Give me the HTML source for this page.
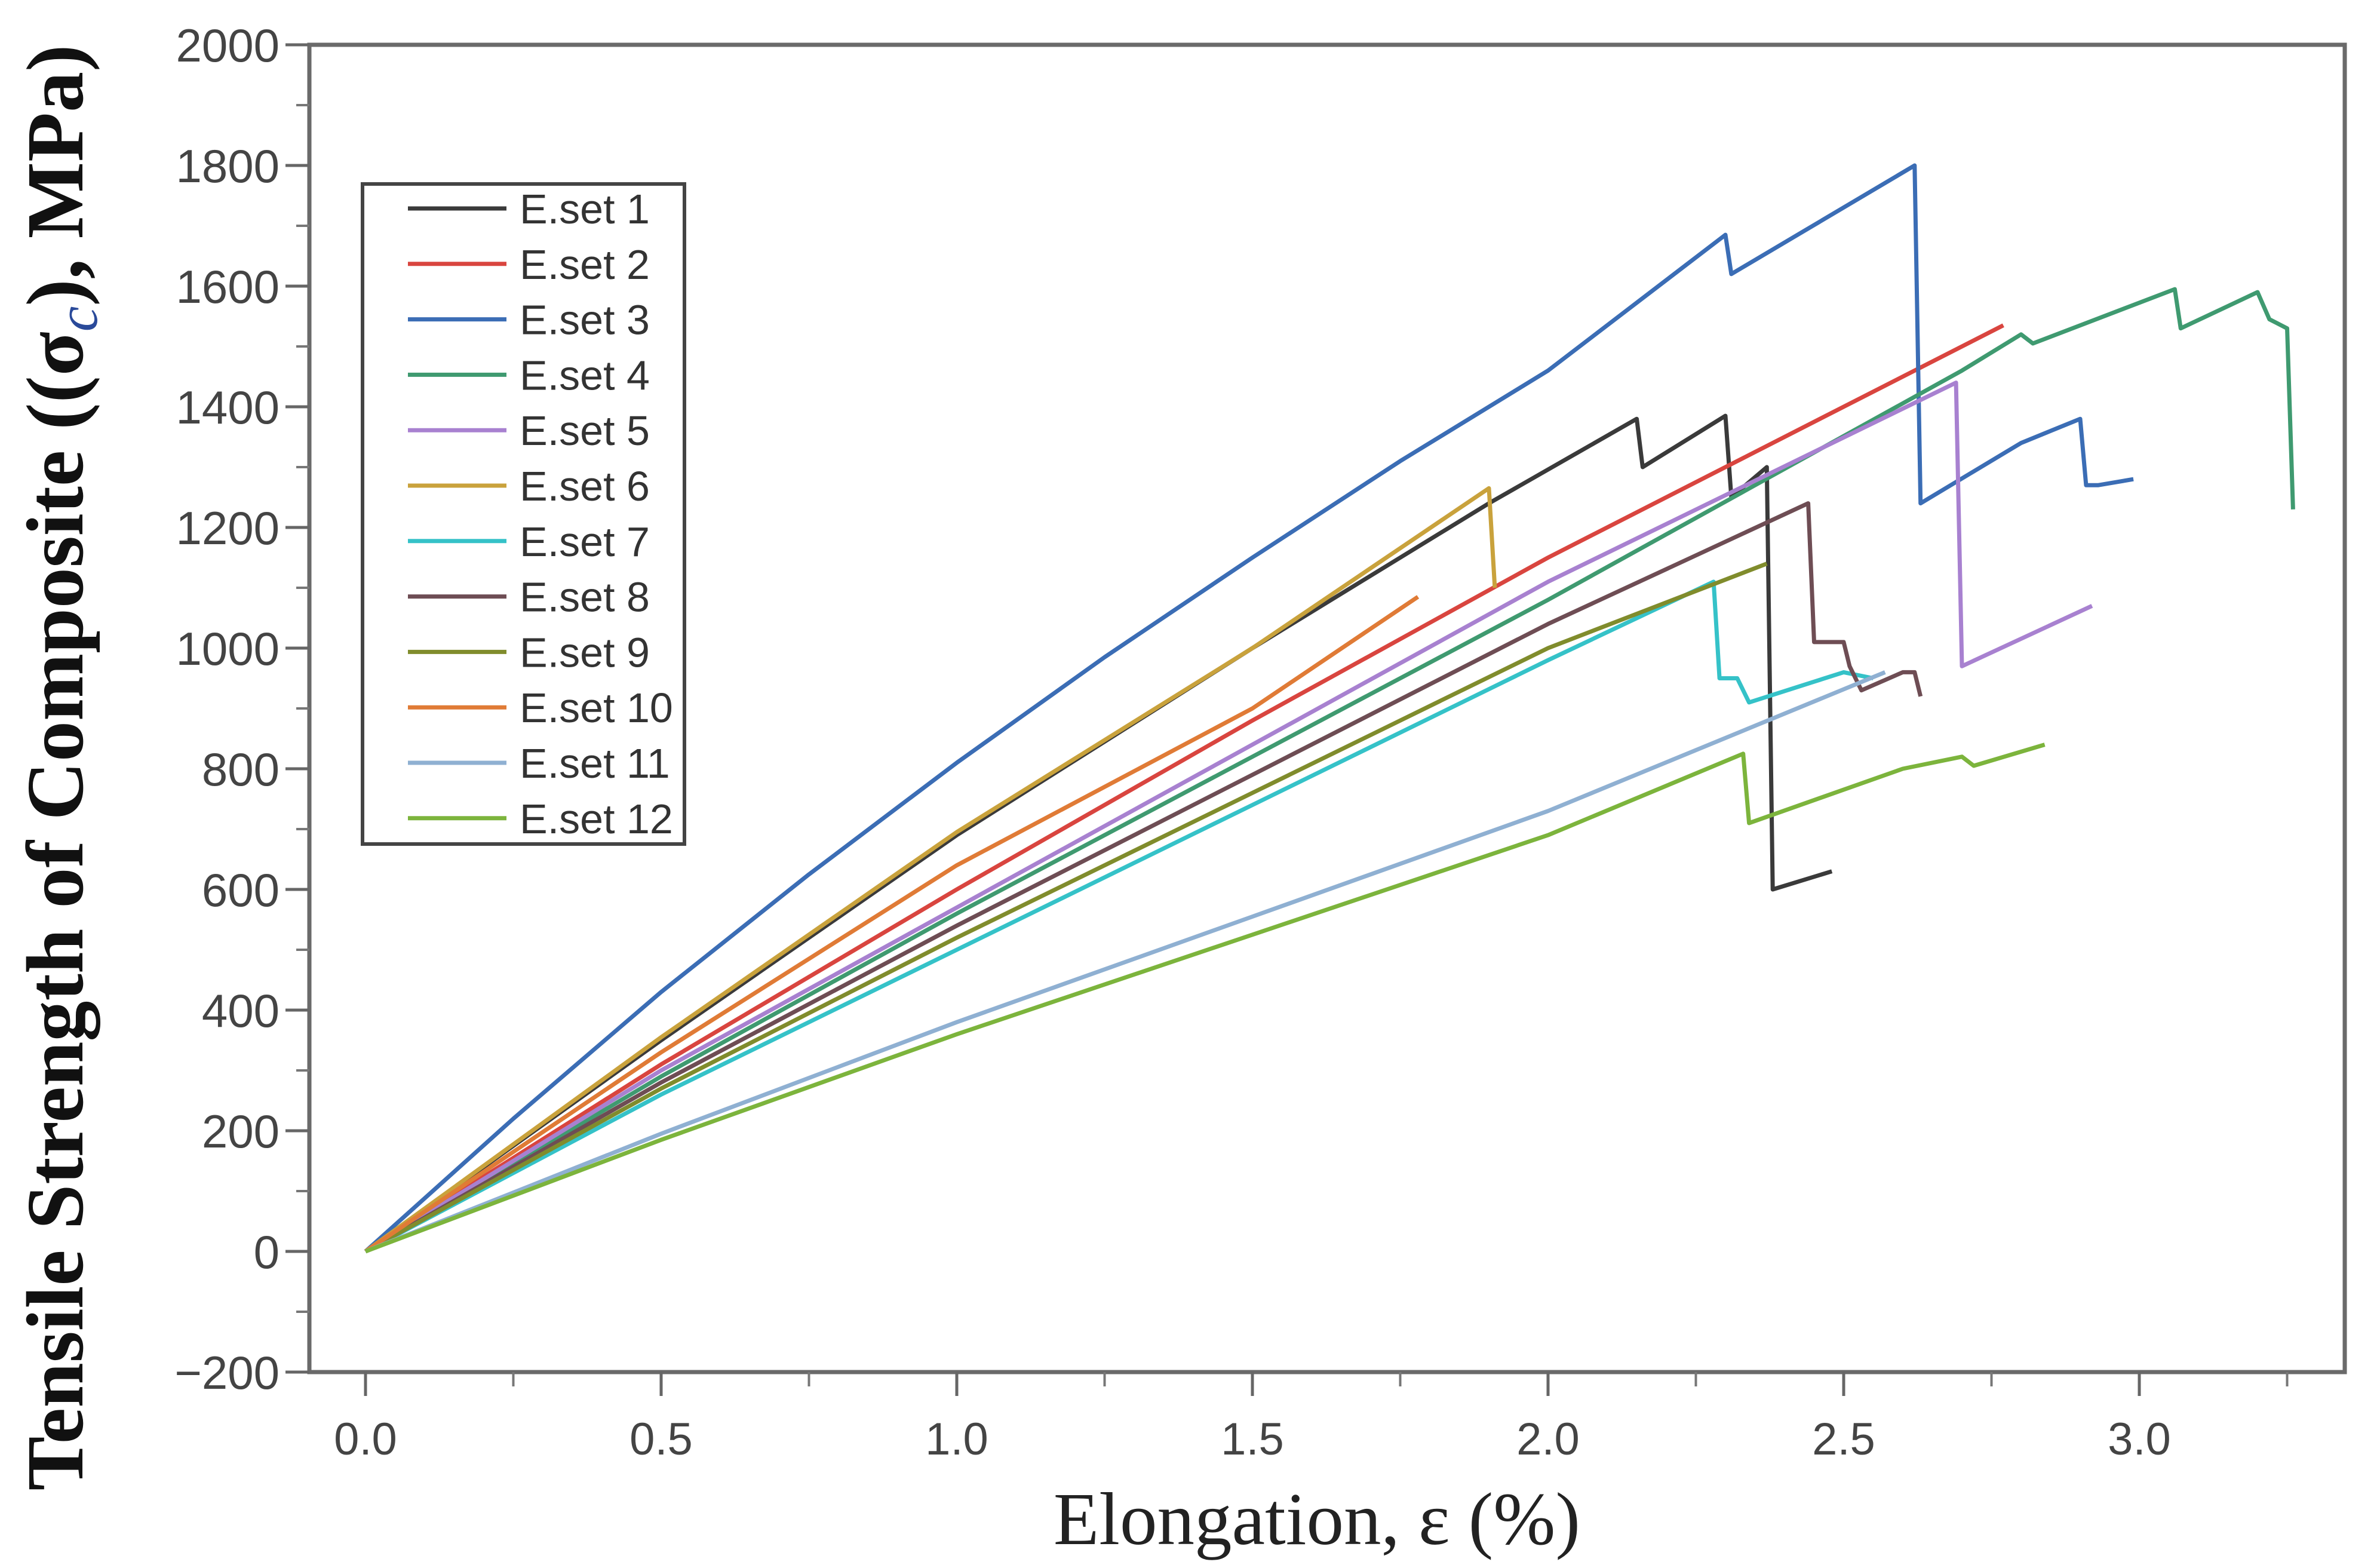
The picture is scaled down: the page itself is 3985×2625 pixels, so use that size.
<!DOCTYPE html>
<html><head><meta charset="utf-8"><style>
html,body{margin:0;padding:0;background:#fff;}
svg{display:block;}
</style></head><body>
<svg id="chart" width="3985" height="2625" viewBox="0 0 3985 2625" xmlns="http://www.w3.org/2000/svg">
<rect x="0" y="0" width="3985" height="2625" fill="#fff"/>
<g id="plot"></g>
<g id="axes"></g>
<text transform="translate(138,1285) rotate(-90)" text-anchor="middle" font-family="Liberation Serif, serif" font-weight="bold" font-size="136" fill="#111">Tensile Strength of Composite ((σ<tspan font-style="italic" font-weight="normal" font-size="96" dy="24" fill="#2a4a9a">c</tspan><tspan dy="-24">), MPa)</tspan></text>
<text x="2205" y="2585" text-anchor="middle" font-family="Liberation Serif, serif" font-size="125" fill="#222">Elongation, ε (%)</text>
<g id="legend"></g>
</svg>
<script>
const xTicks=[0.0,0.5,1.0,1.5,2.0,2.5,3.0];
const xTickLabels=["0.0","0.5","1.0","1.5","2.0","2.5","3.0"];
const yTicks=[-200,0,200,400,600,800,1000,1200,1400,1600,1800,2000];
const seriesNames=["E.set 1","E.set 2","E.set 3","E.set 4","E.set 5","E.set 6","E.set 7","E.set 8","E.set 9","E.set 10","E.set 11","E.set 12"];
const seriesColors=["#3a3a3a","#d9453f","#3b6db5","#3f9a70","#a881d0","#c9a23c","#35c2c8","#6e4d54","#808c2c","#e07b36","#8fb0d2","#7cb43c"];
const s1x=[0,0.5,1.0,1.5,1.9,2.15,2.16,2.3,2.31,2.37,2.38,2.48];
const s1y=[0,350,690,1000,1240,1380,1300,1385,1250,1300,600,630];
const s2x=[0,0.5,1.0,1.5,2.0,2.77];
const s2y=[0,310,600,880,1150,1535];
const s3x=[0,0.25,0.5,0.75,1.0,1.25,1.5,1.75,2.0,2.3,2.31,2.62,2.63,2.8,2.85,2.9,2.91,2.93,2.99];
const s3y=[0,220,430,625,810,985,1150,1310,1460,1685,1620,1800,1240,1340,1360,1380,1270,1270,1280];
const s4x=[0,0.5,1.0,1.5,2.0,2.7,2.8,2.82,3.06,3.07,3.2,3.22,3.25,3.26];
const s4y=[0,290,560,820,1080,1460,1520,1505,1595,1530,1590,1545,1530,1230];
const s5x=[0,0.5,1.0,1.5,2.0,2.69,2.7,2.92];
const s5y=[0,300,570,840,1110,1440,970,1070];
const s6x=[0,0.5,1.0,1.5,1.9,1.91];
const s6y=[0,355,695,1000,1265,1100];
const s7x=[0,0.5,1.0,1.5,2.0,2.28,2.29,2.32,2.34,2.5,2.55];
const s7y=[0,260,500,740,980,1110,950,950,910,960,950];
const s8x=[0,0.5,1.0,1.5,2.0,2.44,2.45,2.5,2.51,2.53,2.6,2.62,2.63];
const s8y=[0,280,540,790,1040,1240,1010,1010,970,930,960,960,920];
const s9x=[0,0.5,1.0,1.5,2.0,2.37];
const s9y=[0,270,520,760,1000,1140];
const s10x=[0,0.5,1.0,1.5,1.78];
const s10y=[0,330,640,900,1085];
const s11x=[0,0.5,1.0,1.5,2.0,2.57];
const s11y=[0,195,380,555,730,960];
const s12x=[0,0.5,1.0,1.5,2.0,2.33,2.34,2.6,2.7,2.72,2.84];
const s12y=[0,185,360,525,690,825,710,800,820,805,840];
const allX=[s1x,s2x,s3x,s4x,s5x,s6x,s7x,s8x,s9x,s10x,s11x,s12x];
const allY=[s1y,s2y,s3y,s4y,s5y,s6y,s7y,s8y,s9y,s10y,s11y,s12y];

const L=518,R=3926,T=75,B=2297;
const X0=612,XPER=990;
function sx(v){return X0+v*XPER;}
function sy(v){return T+(2000-v)*(B-T)/2200;}
const NS="http://www.w3.org/2000/svg";
function mk(tag,attrs,parent){const e=document.createElementNS(NS,tag);for(const k in attrs)e.setAttribute(k,attrs[k]);parent.appendChild(e);return e;}
const plot=document.getElementById('plot'),axes=document.getElementById('axes'),leg=document.getElementById('legend');

for(let i=0;i<allX.length;i++){
  let d='';
  for(let j=0;j<allX[i].length;j++){d+=(j?'L':'M')+sx(allX[i][j]).toFixed(1)+' '+sy(allY[i][j]).toFixed(1);}
  const p=mk('path',{d:d,fill:'none',stroke:seriesColors[i],'stroke-width':7,'stroke-linejoin':'round'},plot);
  
  
}
const frame=mk('rect',{x:L,y:T,width:R-L,height:B-T,fill:'none',stroke:'#6a6a6a','stroke-width':7},axes);


for(let i=0;i<yTicks.length;i++){
  const y=sy(yTicks[i]);
  const t=mk('line',{x1:L-40,x2:L,y1:y,y2:y,stroke:'#666','stroke-width':5},axes);
  
  
  const lb=mk('text',{x:L-50,y:y+28,'text-anchor':'end','font-family':'Liberation Sans, sans-serif','font-size':78,fill:'#444'},axes);
  lb.textContent=(yTicks[i]<0?'\u2212':'')+Math.abs(yTicks[i]);
  
  
  if(i<yTicks.length-1){
    const ym=sy(yTicks[i]+100);
    const m=mk('line',{x1:L-22,x2:L,y1:ym,y2:ym,stroke:'#777','stroke-width':4},axes);
    
    
  }
}
for(let i=0;i<xTicks.length;i++){
  const x=sx(xTicks[i]);
  const t=mk('line',{x1:x,x2:x,y1:B,y2:B+40,stroke:'#666','stroke-width':5},axes);
  
  
  const lb=mk('text',{x:x,y:B+138,'text-anchor':'middle','font-family':'Liberation Sans, sans-serif','font-size':76,fill:'#444'},axes);
  lb.textContent=xTickLabels[i];
  
  
  const xm=sx(xTicks[i]+0.25);
  if(xm<R){
    const m=mk('line',{x1:xm,x2:xm,y1:B,y2:B+24,stroke:'#777','stroke-width':4},axes);
    
    
  }
}
const lb=mk('rect',{x:607,y:308,width:539,height:1105,fill:'#fff',stroke:'#444','stroke-width':6},leg);


for(let i=0;i<seriesNames.length;i++){
  const y=349+i*92.8;
  const g=mk('g',{},leg);
  
  
  mk('line',{x1:683,x2:848,y1:y,y2:y,stroke:seriesColors[i],'stroke-width':7},g);
  const t=mk('text',{x:870,y:y+25,'font-family':'Liberation Sans, sans-serif','font-size':70,fill:'#333'},g);
  t.textContent=seriesNames[i];
}
</script>
</body></html>
